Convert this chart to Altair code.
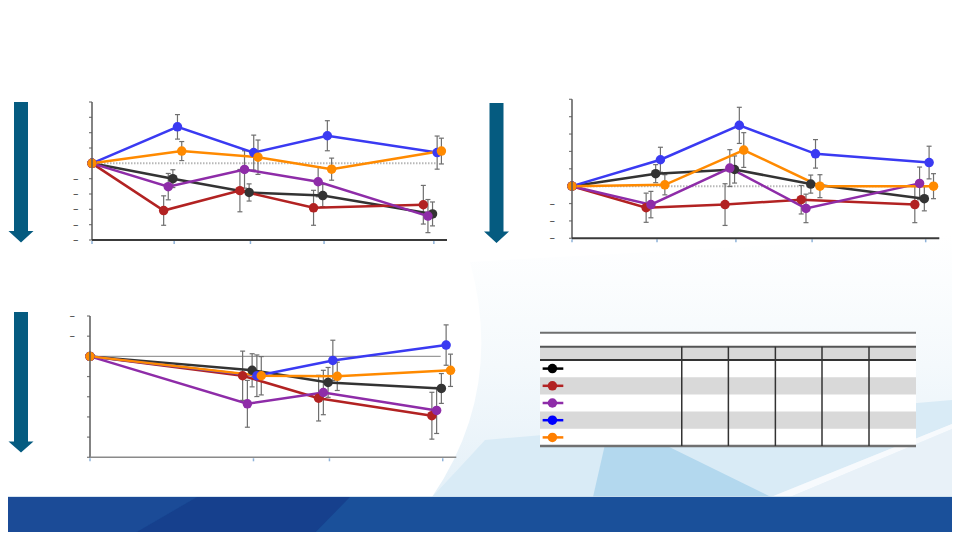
import altair as alt
import pandas as pd

W, H = 944, 524          # whole view: page 960x540 minus the 8px margin on every side
OX, OY = 8, 8            # page margin, used to convert page pixels to view pixels

# ---------------- data ----------------
SERIES = ["Group A", "Group B", "Group C", "Group D", "Group E"]
LINE_COLORS = ["#333333", "#b22222", "#8e2ca8", "#3a3af2", "#ff8a00"]
LEGEND_COLORS = ["#000000", "#b22222", "#8e2ca8", "#0000ff", "#ff7f00"]

VISITS = [0, 12.5, 24.1, 35.3, 52]
VISITS_3 = [0, 24.1, 35.3, 52]

P1_YTICKS = [-25, -20, -15, -10, -5, 0, 5, 10, 15, 20]
P2_YTICKS = [-15, -10, -5, 0, 5, 10, 15, 20, 25]
P3_YTICKS = [-2, -1, 0, 1, 2, 3, 4, 5]

P1_MEAN = {
    "Group A": [0, -5.0, -9.5, -10.5, -16.5],
    "Group B": [0, -15.4, -8.9, -14.5, -13.5],
    "Group C": [0, -7.6, -2.0, -6.0, -17.2],
    "Group D": [0, 11.9, 3.5, 9.0, 3.5],
    "Group E": [0, 4.0, 2.0, -1.9, 4.0],
}
P1_ERR = {
    "Group A": [0, 2.9, 2.8, 3.6, 3.9],
    "Group B": [0, 4.8, 6.9, 5.7, 6.3],
    "Group C": [0, 4.3, 6.1, 4.9, 5.4],
    "Group D": [0, 4.0, 5.7, 4.9, 5.4],
    "Group E": [0, 3.1, 5.6, 3.6, 4.2],
}

P2_MEAN = {
    "Group A": [0, 3.6, 4.8, 0.6, -3.6],
    "Group B": [0, -6.2, -5.3, -3.9, -5.3],
    "Group C": [0, -5.3, 5.2, -6.4, 0.8],
    "Group D": [0, 7.6, 17.5, 9.3, 6.8],
    "Group E": [0, 0.4, 10.4, 0.0, 0.0],
}
P2_ERR = {
    "Group A": [0, 2.6, 3.9, 2.6, 3.5],
    "Group B": [0, 4.2, 6.0, 4.1, 5.2],
    "Group C": [0, 3.8, 5.3, 4.1, 4.7],
    "Group D": [0, 3.6, 5.2, 4.1, 4.7],
    "Group E": [0, 2.9, 5.0, 3.3, 3.6],
}

P3_MEAN = {
    "Group A": [0, 0.69, 1.29, 1.59],
    "Group B": [0, 0.96, 2.07, 2.94],
    "Group C": [0, 2.35, 1.79, 2.68],
    "Group D": [0, 0.96, 0.20, -0.56],
    "Group E": [0, 0.96, 0.99, 0.69],
}
P3_ERR = {
    "Group A": [0, 0.82, 0.74, 0.74],
    "Group B": [0, 1.22, 1.13, 1.16],
    "Group C": [0, 1.16, 1.10, 1.14],
    "Group D": [0, 1.03, 1.00, 1.00],
    "Group E": [0, 0.95, 0.70, 0.80],
}

# ---------------- styles ----------------
DODGE = {"Group A": -0.2, "Group B": -1.6, "Group C": -0.9, "Group D": 0.5, "Group E": 1.15}
EB_COLOR = "#6f6f6f"
ARROW = "#055b80"
DOT = 90


def long_df(visits, means, errs):
    rows = []
    for i, s in enumerate(SERIES):
        for v, m, e in zip(visits, means[s], errs[s]):
            rows.append(dict(series=s, order=i, visit=v,
                             x=v + (DODGE[s] if v > 0 else 0.0),
                             y=m, lo=m - e, hi=m + e, err=e,
                             color=LINE_COLORS[i]))
    return pd.DataFrame(rows)


def panel(df, x_px, y_px, ydom, yticks, xticks, label_pad, ref_end, ref_mark,
          xdom_color, xdom_width, x_bottom):
    xs = alt.Scale(domain=[0, 54], range=[x_px[0] - OX, x_px[1] - OX], nice=False, zero=False)
    ys = alt.Scale(domain=ydom, range=[y_px[0] - OY, y_px[1] - OY], nice=False, zero=False)

    def X(f):
        return alt.X(f, type="quantitative", scale=xs, axis=None)

    def Y(f):
        return alt.Y(f, type="quantitative", scale=ys, axis=None)

    # --- axes drawn through the panel scales ---
    ytick_df = pd.DataFrame({"v": yticks, "x": 0.0,
                             "lab": ["\u2013" if v < 0 else "" for v in yticks]})
    xtick_df = pd.DataFrame({"v": xticks, "y": x_bottom})
    ydom_df = pd.DataFrame({"x": [0.0], "y0": [min(ydom)], "y1": [max(ydom)]})
    xdom_df = pd.DataFrame({"x0": [0.0], "x1": [54.0], "y": [x_bottom]})

    y_dom = alt.Chart(ydom_df).mark_rule(color="#5a5a5a", strokeWidth=1.5).encode(
        x=X("x"), y=Y("y0"), y2="y1")
    y_ticks = alt.Chart(ytick_df).mark_tick(orient="horizontal", size=3, thickness=1.2,
                                            color="#7a7a7a", opacity=1, xOffset=-1.5).encode(
        x=X("x"), y=Y("v"))
    y_labels = alt.Chart(ytick_df).mark_text(align="right", baseline="middle", fontSize=11,
                                             font="DejaVu Sans", color="#333333",
                                             dx=-(3 + label_pad)).encode(
        x=X("x"), y=Y("v"), text="lab:N")
    x_dom = alt.Chart(xdom_df).mark_rule(color=xdom_color, strokeWidth=xdom_width).encode(
        x=X("x0"), x2="x1", y=Y("y"))
    x_ticks = alt.Chart(xtick_df).mark_tick(orient="vertical", size=3, thickness=1.5,
                                            color="#8fb3d9", opacity=1, yOffset=2.5).encode(
        x=X("v"), y=Y("y"))

    base = alt.Chart(df)
    ref = alt.Chart(pd.DataFrame({"x0": [0], "x1": [ref_end], "y": [0]})).mark_rule(**ref_mark).encode(
        x=X("x0"), x2="x1", y=Y("y"))
    errs = base.transform_filter("datum.err > 0")
    err_rule = errs.mark_rule(color=EB_COLOR, strokeWidth=1.2).encode(
        x=X("x"), y=Y("lo"), y2="hi")
    cap_lo = errs.mark_tick(orient="horizontal", size=5, thickness=1.2, color=EB_COLOR, opacity=1).encode(
        x=X("x"), y=Y("lo"))
    cap_hi = errs.mark_tick(orient="horizontal", size=5, thickness=1.2, color=EB_COLOR, opacity=1).encode(
        x=X("x"), y=Y("hi"))
    line = base.mark_line(strokeWidth=2.5).encode(
        x=X("x"), y=Y("y"),
        color=alt.Color("color:N", scale=None),
        detail="series:N", order="x:Q")
    pts = base.mark_point(filled=True, size=DOT, opacity=1).encode(
        x=X("x"), y=Y("y"),
        color=alt.Color("color:N", scale=None))
    return alt.layer(x_ticks, y_ticks, y_labels, ref, err_rule, cap_lo, cap_hi,
                     line, pts, y_dom, x_dom)


p1 = panel(long_df(VISITS, P1_MEAN, P1_ERR), (92, 447), (240, 102), [-25, 20],
           P1_YTICKS, VISITS, 10.5, 52.5,
           dict(color="#b8b8b8", strokeWidth=2, strokeDash=[1.5, 1.5]), "#3a3a3a", 2, -25)
p2 = panel(long_df(VISITS, P2_MEAN, P2_ERR), (572, 939.3), (238.3, 99.3), [-15, 25],
           P2_YTICKS, VISITS, 14, 52,
           dict(color="#b8b8b8", strokeWidth=2, strokeDash=[1.5, 1.5]), "#3a3a3a", 2, -15)
p3 = panel(long_df(VISITS_3, P3_MEAN, P3_ERR), (90, 456.3), (316, 457.3), [-2, 5],
           P3_YTICKS, VISITS_3, 12, 51.7,
           dict(color="#9a9a9a", strokeWidth=1.2), "#8a8a8a", 1.5, 5)

# ---------------- legend table ----------------
TABLE_COLS = [0.377, 0.501, 0.626, 0.750, 0.875]
HEADER_TOP, TITLE_LINE = -0.773, -1.587
xs_t = alt.Scale(domain=[0, 1], range=[540 - OX, 916 - OX], nice=False, zero=False)
ys_t = alt.Scale(domain=[0, 5], range=[360 - OY, 446 - OY], nice=False, zero=False)

bands = [dict(x0=0, x1=1, y0=TITLE_LINE, y1=5, fill="#ffffff"),
         dict(x0=0, x1=1, y0=HEADER_TOP, y1=0, fill="#d9d9d9")]
for i, s in enumerate(SERIES):
    if i % 2 == 1:
        bands.append(dict(x0=0, x1=1, y0=i, y1=i + 1, fill="#d9d9d9"))
bands_df = pd.DataFrame(bands)
hlines_df = pd.DataFrame([
    dict(x0=0, x1=1, y=TITLE_LINE, c="#707070", w=2),
    dict(x0=0, x1=1, y=HEADER_TOP, c="#555555", w=2),
    dict(x0=0, x1=1, y=0, c="#333333", w=2),
    dict(x0=0, x1=1, y=5, c="#707070", w=2.5),
])
vlines_df = pd.DataFrame([dict(x=c, y0=HEADER_TOP, y1=5) for c in TABLE_COLS])
leg_df = pd.DataFrame([dict(series=s, row=i + 0.5, color=LEGEND_COLORS[i], x0=0.007, x1=0.062, xp=0.033)
                       for i, s in enumerate(SERIES)])

t_bands = alt.Chart(bands_df).mark_rect().encode(
    x=alt.X("x0:Q", scale=xs_t, axis=None), x2="x1:Q",
    y=alt.Y("y0:Q", scale=ys_t, axis=None), y2="y1:Q",
    color=alt.Color("fill:N", scale=None))
t_h = alt.Chart(hlines_df).mark_rule().encode(
    x=alt.X("x0:Q", scale=xs_t, axis=None), x2="x1:Q",
    y=alt.Y("y:Q", scale=ys_t, axis=None),
    color=alt.Color("c:N", scale=None), strokeWidth=alt.StrokeWidth("w:Q", scale=None))
t_v = alt.Chart(vlines_df).mark_rule(color="#333333", strokeWidth=1.5).encode(
    x=alt.X("x:Q", scale=xs_t, axis=None),
    y=alt.Y("y0:Q", scale=ys_t, axis=None), y2="y1:Q")
t_lr = alt.Chart(leg_df).mark_rule(strokeWidth=2.5).encode(
    x=alt.X("x0:Q", scale=xs_t, axis=None), x2="x1:Q",
    y=alt.Y("row:Q", scale=ys_t, axis=None),
    color=alt.Color("color:N", scale=None))
t_lp = alt.Chart(leg_df).mark_point(filled=True, size=DOT, opacity=1).encode(
    x=alt.X("xp:Q", scale=xs_t, axis=None),
    y=alt.Y("row:Q", scale=ys_t, axis=None),
    color=alt.Color("color:N", scale=None))
table = alt.layer(t_bands, t_h, t_v, t_lr, t_lp)

# ---------------- decorations (view pixels) ----------------
dummy = pd.DataFrame({"k": [0]})


def shape(path, fill):
    return alt.Chart(dummy).mark_point(shape=path, size=4, filled=True, fill=fill,
                                       strokeWidth=0, opacity=1).encode(
        x=alt.value(0), y=alt.value(0))


bg_grad = alt.Gradient(gradient="linear", x1=0, y1=0, x2=0, y2=1, stops=[
    alt.GradientStop(color="#ffffff", offset=0),
    alt.GradientStop(color="#f4f9fc", offset=0.5),
    alt.GradientStop(color="#e4f0f8", offset=1)])
decor = [
    shape("M424,489Q497,382 462,254L944,227L944,489Z", bg_grad),
    shape("M424,489Q457,454 477,432L944,392L944,416L763,489Z", "#d9ebf6"),
    shape("M763,489L944,416L944,421L782,489Z", "#f7fafd"),
    shape("M782,489L944,421L944,489Z", "#e8f1f8"),
    shape("M585,489L598,432L647,432L763,489Z", "#b3d8ee"),
]
footer = [
    alt.Chart(dummy).mark_rect(color="#1a509a").encode(
        x=alt.value(0), x2=alt.value(W), y=alt.value(489), y2=alt.value(H)),
    shape("M0,489L189,489L115,532L0,532Z", "#1b4b97"),
    shape("M189,489L342,489L300,532L115,532Z", "#16408d"),
    alt.Chart(dummy).mark_rect(color="#c9dced").encode(
        x=alt.value(0), x2=alt.value(W), y=alt.value(488.2), y2=alt.value(489)),
]
arrows = [
    shape("M6,94L20,94L20,223L25.5,223L13,234.5L0.5,223L6,223Z", ARROW),
    shape("M481.5,95L495.5,95L495.5,223.5L501,223.5L488.5,235L476,223.5L481.5,223.5Z", ARROW),
    shape("M6,304L20,304L20,433.5L25.5,433.5L13,444.5L0.5,433.5L6,433.5Z", ARROW),
]

chart = alt.layer(*decor, *footer, table, p1, p2, p3, *arrows).resolve_scale(
    x="independent", y="independent"
).properties(
    width=W, height=H, autosize=alt.AutoSizeParams(type="none"), padding=0
).configure(
    background="white", view=alt.ViewConfig(strokeWidth=0, stroke="transparent")
)

chart.save("out.html", embed_options={"renderer": "svg", "actions": False})
